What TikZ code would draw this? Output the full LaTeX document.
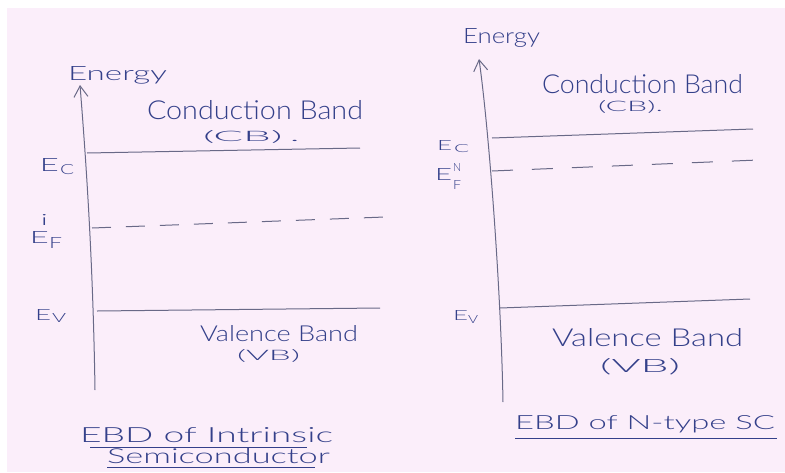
\documentclass[tikz,border=0pt]{standalone}
\usepackage{fontspec}
\setmainfont{Lato}[UprightFont={* Light}]
\usetikzlibrary{arrows.meta}
\definecolor{paper}{RGB}{251,238,250}
\definecolor{ink}{RGB}{52,64,138}
\definecolor{pencil}{RGB}{105,105,135}
\newcommand{\hw}[3]{\resizebox{#1pt}{#2pt}{#3}}
\begin{document}
\begin{tikzpicture}[x=1pt,y=-1pt,
  txt/.style={inner sep=0pt, outer sep=0pt, text=ink, anchor=base west},
  level/.style={draw=pencil, line width=1pt},
  fermi/.style={level, dash pattern=on 19pt off 15pt},
  axisline/.style={draw=pencil, line width=1pt, -{Straight Barb[length=11pt,width=14pt]}},
  uline/.style={draw=ink, line width=0.9pt}]
\useasboundingbox (0,0) rectangle (785,472);
\fill[paper] (0,0) rectangle (785,472);
\fill[white] (0,0) rectangle (785,8);
\fill[white] (0,0) rectangle (7,472);

% ---------- left panel ----------
\coordinate (lbot) at (95,390);
\coordinate (ltop) at (80,85);
\draw[axisline] (lbot) .. controls (93,260) and (86,160) .. (ltop);

\node[txt] (energyL) at (68,80) {\hw{99}{14}{Energy}};
\node[txt] (cbL) at (147,119) {\hw{216}{19}{Conduction Band}};
\node[txt] (cbL2) at (203,141) {\hw{97}{11}{(CB)\,.}};

\coordinate (ecL1) at (87,153);
\coordinate (ecL2) at (360,148);
\draw[level] (ecL1) -- (ecL2);
\node[txt] (ecLE) at (40,171) {\hw{19}{13}{E}};
\node[txt] (ecLs) at (60,174) {\hw{14}{10}{C}};

\coordinate (efL1) at (92,228);
\coordinate (efL2) at (385,217);
\draw[fermi] (efL1) -- (efL2);
\node[txt] (efLE) at (30,243) {\hw{19}{12}{E}};
\node[txt] (efLi) at (41,225) {\hw{7}{11}{i}};
\node[txt] (efLF) at (49,248) {\hw{13}{11}{F}};

\coordinate (evL1) at (97,311);
\coordinate (evL2) at (380,308);
\draw[level] (evL1) -- (evL2);
\node[txt] (evLE) at (35,320) {\hw{16}{11}{E}};
\node[txt] (evLs) at (52,322) {\hw{14}{9}{V}};

\node[txt] (vbL) at (200,341) {\hw{158}{16}{Valence Band}};
\node[txt] (vbL2) at (237,360) {\hw{63}{11}{(VB)}};

\node[txt] (capL1) at (80,442) {\hw{253}{15}{EBD of Intrinsic}};
\coordinate (ulL1a) at (90,447);
\coordinate (ulL1b) at (307,447);
\draw[uline] (ulL1a) -- (ulL1b);
\node[txt] (capL2) at (107,463) {\hw{223}{15}{Semiconductor}};
\coordinate (ulL2a) at (107,467);
\coordinate (ulL2b) at (315,467);
\draw[uline] (ulL2a) -- (ulL2b);

% ---------- right panel ----------
\coordinate (rbot) at (503,402);
\coordinate (rtop) at (479,59);
\draw[axisline] (rbot) .. controls (501,290) and (489,130) .. (rtop);

\node[txt] (energyR) at (463,43) {\hw{77}{15}{Energy}};
\node[txt] (cbR) at (542,93) {\hw{201}{19}{Conduction Band}};
\node[txt] (cbR2) at (598,111) {\hw{65}{11}{(CB).}};

\coordinate (ecR1) at (492,138);
\coordinate (ecR2) at (753,129);
\draw[level] (ecR1) -- (ecR2);
\node[txt] (ecRE) at (437,150) {\hw{15}{10}{E}};
\node[txt] (ecRs) at (454,152) {\hw{15}{8}{C}};

\coordinate (efR1) at (492,171);
\coordinate (efR2) at (758,160);
\draw[fermi, dash pattern=on 21pt off 19pt] (efR1) -- (efR2);
\node[txt] (efRE) at (435,180) {\hw{17}{12}{E}};
\node[txt] (efRN) at (453,171) {\hw{8}{8}{N}};
\node[txt] (efRF) at (453,189) {\hw{8}{9}{F}};

\coordinate (evR1) at (500,308);
\coordinate (evR2) at (750,299);
\draw[level] (evR1) -- (evR2);
\node[txt] (evRE) at (453,320) {\hw{15}{10}{E}};
\node[txt] (evRs) at (468,323) {\hw{10}{8}{V}};

\node[txt] (vbR) at (552,346) {\hw{191}{18}{Valence Band}};
\node[txt] (vbR2) at (600,372) {\hw{80}{14}{(VB)}};

\node[txt] (capR) at (515,429) {\hw{260}{14}{EBD of N-type SC}};
\coordinate (ulRa) at (515,438);
\coordinate (ulRb) at (777,438);
\draw[uline] (ulRa) -- (ulRb);
\end{tikzpicture}
\end{document}
